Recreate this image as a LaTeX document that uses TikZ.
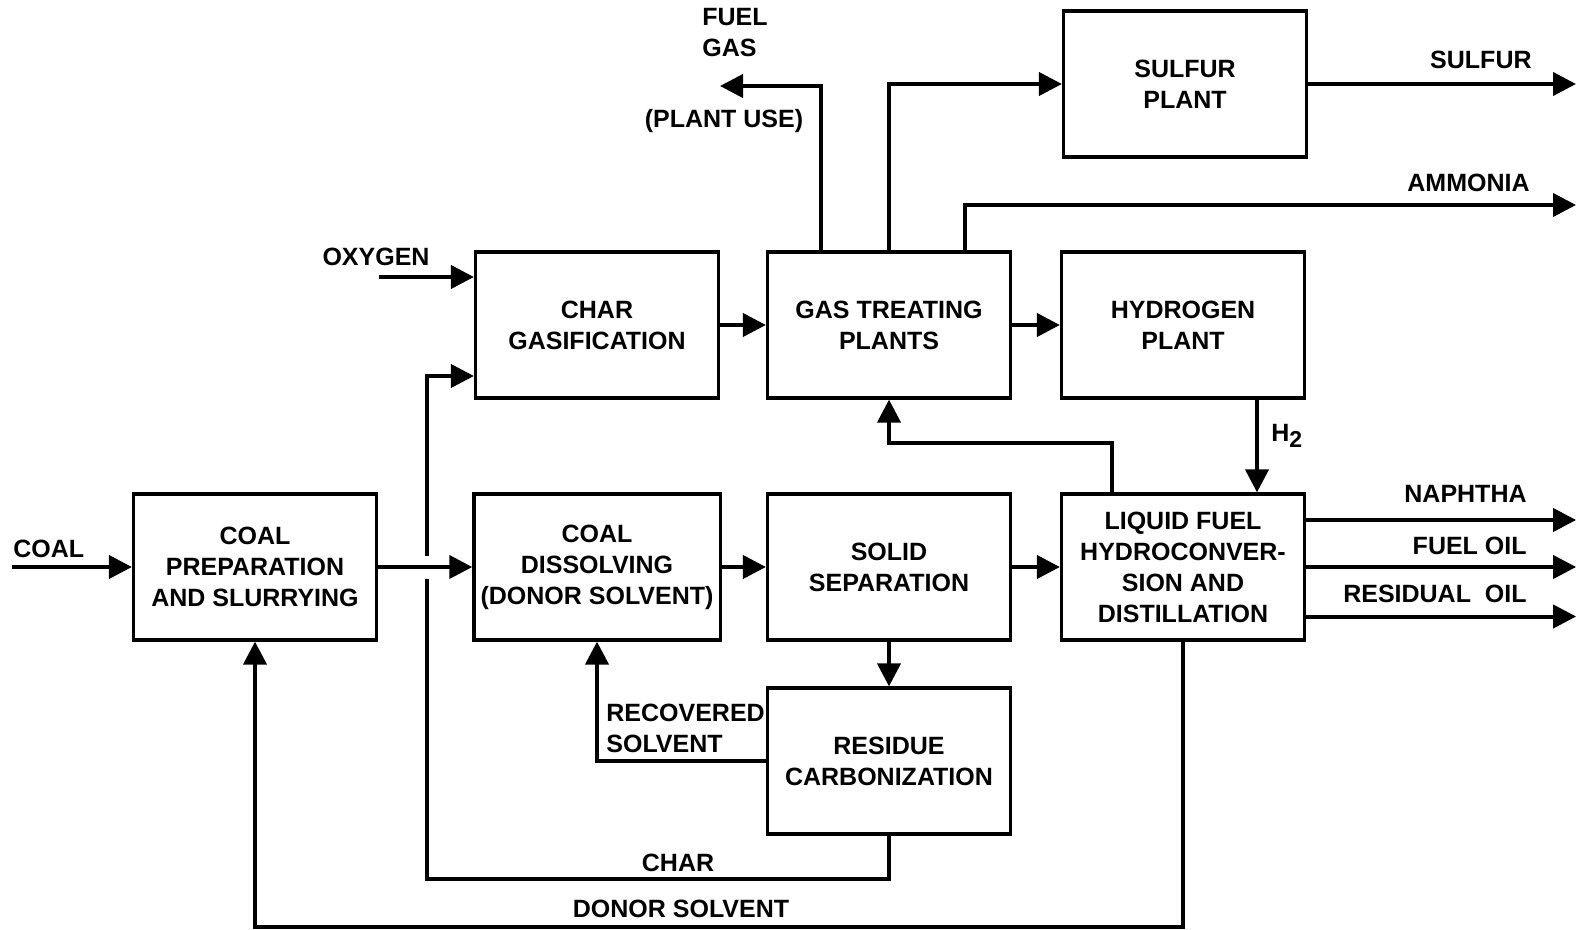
\documentclass[tikz,border=0pt]{standalone}
\usepackage{fontspec}
\setmainfont{Liberation Sans}
\usetikzlibrary{arrows.meta}
\begin{document}
\begin{tikzpicture}[x=0.5pt,y=-0.5pt,
    box/.style={draw,line width=1.6pt,minimum width=121.5pt,minimum height=73pt,align=center,
        font=\fontsize{12.5}{15.5}\selectfont\bfseries},
    lbl/.style={inner sep=0pt,font=\fontsize{12.5}{15.5}\selectfont\bfseries},
    flow/.style={line width=2pt,-{Triangle[length=11.5pt,width=11.5pt]}},
    pipe/.style={line width=2pt}]
    \useasboundingbox (0,0) rectangle (1579,930);
    % process blocks
    \node[box] (prep) at (255,567) {COAL\\PREPARATION\\AND SLURRYING};
    \node[box] (gasif) at (597,325) {CHAR\\GASIFICATION};
    \node[box] (gastreat) at (889,325) {GAS TREATING\\PLANTS};
    \node[box] (hydrogen) at (1183,325) {HYDROGEN\\PLANT};
    \node[box] (sulfur) at (1185,84) {SULFUR\\PLANT};
    \node[box] (dissolv) at (597,567) {COAL\\DISSOLVING\\(DONOR SOLVENT)};
    \node[box] (solidsep) at (889,567) {SOLID\\SEPARATION};
    \node[box] (liquid) at (1183,567) {LIQUID FUEL\\HYDROCONVER-\\SION AND\\DISTILLATION};
    \node[box] (residue) at (889,761) {RESIDUE\\CARBONIZATION};
    % free ends
    \coordinate (coalin) at (12,567);
    \coordinate (oxin) at (379,277);
    \coordinate (fuelout) at (720,86);
    \coordinate (sulfurout) at (1576,84);
    \coordinate (ammout) at (1576,205);
    \coordinate (charlow) at (427,879);
    \coordinate (gapbot) at (427,579);
    \coordinate (gaptop) at (427,556);
    \coordinate (charup) at (427,376);
    % main line
    \draw[flow] (coalin) -- (prep.west);
    \draw[flow] (prep) -- (dissolv);
    \draw[flow] (dissolv) -- (solidsep);
    \draw[flow] (solidsep) -- (liquid);
    \draw[flow] (solidsep) -- (residue);
    \draw[flow] (residue.west) -| (dissolv.south);
    % char to gasifier, broken where it crosses the slurry line
    \draw[pipe] (residue.south) |- (charlow) -- (gapbot);
    \draw[flow] (gaptop) -- (charup) -- (charup -| gasif.west);
    \draw[flow] (liquid.south) -- ++(0,285) -| (prep.south);
    % gas side
    \draw[flow] (oxin) -- (oxin -| gasif.west);
    \draw[flow] (gasif) -- (gastreat);
    \draw[flow] (gastreat) -- (hydrogen);
    \draw[flow] ([xshift=-34pt]gastreat.north) |- (fuelout);
    \draw[flow] (gastreat.north) |- (sulfur.west);
    \draw[flow] (sulfur.east) -- (sulfurout);
    \draw[flow] ([xshift=38pt]gastreat.north) |- (ammout);
    \draw[flow] ([xshift=37pt]hydrogen.south) -- ([xshift=37pt]liquid.north);
    \draw[flow] ([xshift=-35.5pt]liquid.north) -- ++(0,-49) -| (gastreat.south);
    % products
    \draw[flow] ([yshift=23.5pt]liquid.east) -- ++(270,0);
    \draw[flow] (liquid.east) -- ++(270,0);
    \draw[flow] ([yshift=-24.75pt]liquid.east) -- ++(270,0);
    % stream labels
    \node[lbl,anchor=west] (coallbl) at (13,549) {COAL};
    \node[lbl] (oxylbl) at (376,257) {OXYGEN};
    \node[lbl,anchor=west,align=left] (fuelgaslbl) at (702,33) {FUEL\\GAS};
    \node[lbl] (plantuselbl) at (724,121) {(PLANT USE)};
    \node[lbl,anchor=east] (sulfurlbl) at (1532,60) {SULFUR};
    \node[lbl,anchor=east] (ammlbl) at (1530,183) {AMMONIA};
    \node[lbl,anchor=west] (h2lbl) at (1271,436) {H\raisebox{-0.5ex}{\fontsize{11.5}{12}\selectfont 2}};
    \node[lbl,anchor=east] (naphlbl) at (1527,494) {NAPHTHA};
    \node[lbl,anchor=east] (fueloillbl) at (1527,546) {FUEL OIL};
    \node[lbl,anchor=east] (residlbl) at (1527,594) {RESIDUAL\ \ OIL};
    \node[lbl,anchor=west,align=left] (reclbl) at (606,728) {RECOVERED\\SOLVENT};
    \node[lbl] (charlbl) at (678,863) {CHAR};
    \node[lbl] (donorlbl) at (681,909) {DONOR SOLVENT};
\end{tikzpicture}
\end{document}
